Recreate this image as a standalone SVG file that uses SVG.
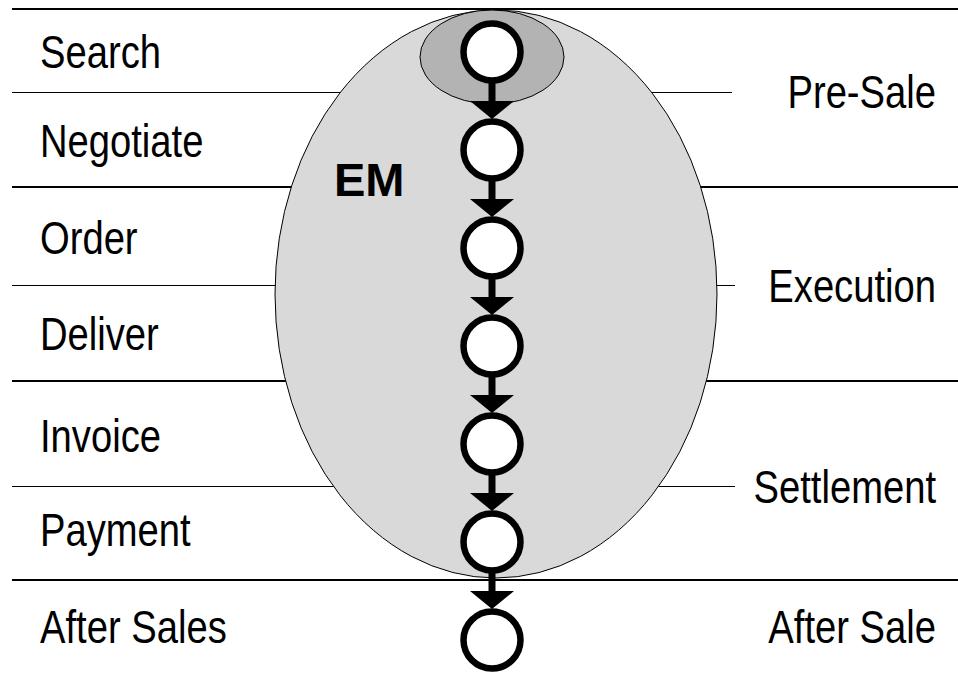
<svg xmlns="http://www.w3.org/2000/svg" width="958" height="674" viewBox="0 0 958 674">
  <style>
    .rule-thin { stroke: #000; stroke-width: 1; fill: none; }
    .rule-bold { stroke: #000; stroke-width: 2; fill: none; }
    .label { font-family: "Liberation Sans", Arial, sans-serif; font-size: 46px; fill: #000; }
    .label-end { text-anchor: end; }
    .em { font-family: "Liberation Sans", Arial, sans-serif; font-size: 47px; font-weight: bold; fill: #000; }
    .step { fill: #fff; stroke: #000; stroke-width: 6.5; }
    .flow { stroke: #000; stroke-width: 7; fill: none; marker-end: url(#head); }
  </style>
  <defs>
    <marker id="head" viewBox="0 -22 18 44" refX="8" refY="0" markerWidth="18" markerHeight="44" markerUnits="userSpaceOnUse" orient="auto">
      <path d="M0,-22 L18,0 L0,22 Z" fill="#000"/>
    </marker>
  </defs>

  <rect width="958" height="674" fill="#fff"/>

  <!-- phase rules -->
  <g id="rules">
    <line class="rule-bold" x1="12" y1="9" x2="958" y2="9"/>
    <line class="rule-thin" x1="12" y1="92.5" x2="732" y2="92.5"/>
    <line class="rule-bold" x1="12" y1="187" x2="958" y2="187"/>
    <line class="rule-thin" x1="12" y1="285.5" x2="735" y2="285.5"/>
    <line class="rule-bold" x1="12" y1="381" x2="958" y2="381"/>
    <line class="rule-thin" x1="12" y1="486.5" x2="735" y2="486.5"/>
  </g>

  <!-- EM envelope -->
  <g id="em-region">
    <ellipse cx="496" cy="294" rx="221" ry="284" fill="#d9d9d9" stroke="#000" stroke-width="1"/>
    <ellipse cx="492" cy="57" rx="72" ry="47" fill="#b3b3b3" stroke="#000" stroke-width="1"/>
    <text class="em" x="334" y="196">EM</text>
  </g>

  <line class="rule-bold" x1="12" y1="580" x2="958" y2="580"/>

  <!-- step labels -->
  <g id="steps-text">
    <text class="label" transform="translate(40,68) scale(0.83,1)">Search</text>
    <text class="label" transform="translate(40,157) scale(0.83,1)">Negotiate</text>
    <text class="label" transform="translate(40,254) scale(0.83,1)">Order</text>
    <text class="label" transform="translate(40,350) scale(0.83,1)">Deliver</text>
    <text class="label" transform="translate(40,452) scale(0.83,1)">Invoice</text>
    <text class="label" transform="translate(40,546) scale(0.83,1)">Payment</text>
    <text class="label" transform="translate(40,643) scale(0.83,1)">After Sales</text>
  </g>

  <!-- phase labels -->
  <g id="phases-text">
    <text class="label label-end" transform="translate(936,108) scale(0.83,1)">Pre-Sale</text>
    <text class="label label-end" transform="translate(936,302) scale(0.83,1)">Execution</text>
    <text class="label label-end" transform="translate(936,503) scale(0.83,1)">Settlement</text>
    <text class="label label-end" transform="translate(936,643) scale(0.83,1)">After Sale</text>
  </g>

  <!-- connectors -->
  <g id="connectors">
    <line class="flow" x1="492" y1="80" x2="492" y2="109"/>
    <line class="flow" x1="492" y1="178" x2="492" y2="207"/>
    <line class="flow" x1="492" y1="276" x2="492" y2="305"/>
    <line class="flow" x1="492" y1="374" x2="492" y2="403"/>
    <line class="flow" x1="492" y1="472" x2="492" y2="501"/>
    <line class="flow" x1="492" y1="570" x2="492" y2="599"/>
  </g>

  <!-- process steps -->
  <g id="step-search"><circle class="step" cx="492" cy="52" r="28.5"/></g>
  <g id="step-negotiate"><circle class="step" cx="492" cy="150" r="28.5"/></g>
  <g id="step-order"><circle class="step" cx="492" cy="248" r="28.5"/></g>
  <g id="step-deliver"><circle class="step" cx="492" cy="346" r="28.5"/></g>
  <g id="step-invoice"><circle class="step" cx="492" cy="444" r="28.5"/></g>
  <g id="step-payment"><circle class="step" cx="492" cy="542" r="28.5"/></g>
  <g id="step-after-sales"><circle class="step" cx="492" cy="640" r="28.5"/></g>
</svg>
